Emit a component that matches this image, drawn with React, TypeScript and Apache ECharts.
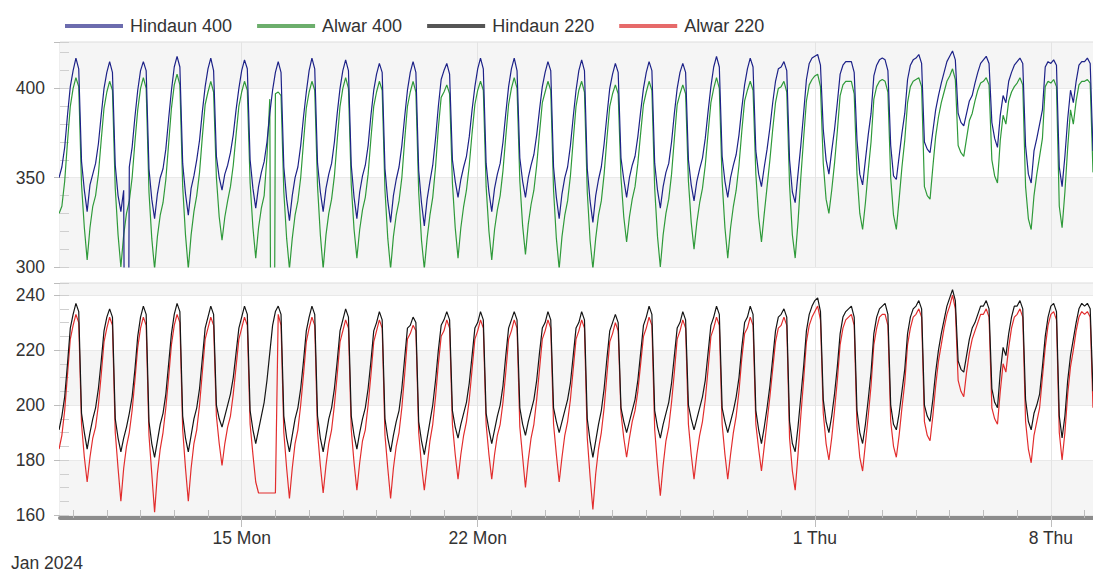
import React, { useEffect, useRef } from 'react';
import * as echarts from 'echarts';

// ---- time frame (UTC) ----
const HOUR = 3600000;
const SAMPLE_STEP_HOURS = 2;
const FIRST_SAMPLE = Date.UTC(2024, 0, 9, 14);
const X_MIN = Date.UTC(2024, 0, 9, 14, 40);
const X_MAX = Date.UTC(2024, 1, 9, 6);

// labelled dates on the time axis
const labelDates: [number, number, number][] = [
  [2024, 0, 15],
  [2024, 0, 22],
  [2024, 1, 1],
  [2024, 1, 8],
];
const weekDayNames = ['Sun', 'Mon', 'Tue', 'Wed', 'Thu', 'Fri', 'Sat'];

// ---- series values (kV), one row per day, samples every 2 h ----
// first row: Jan 9 14h..22h, last row: Feb 9 00h..06h
const hindaun400: number[][] = [
  [350, 356, 367, 385, 401],
  [410, 417, 411, 359, 343, 331, 346, 352, 358, 369, 385, 400],
  [409, 415, 409, 357, 340, 331, 343, 0, 356, 367, 384, 399],
  [410, 415, 410, 355, 338, 327, 341, 350, 355, 366, 383, 399],
  [412, 418, 412, 358, 341, 329, 344, 351, 360, 371, 387, 401],
  [411, 417, 410, 362, 350, 343, 352, 357, 364, 374, 388, 400],
  [410, 416, 411, 360, 344, 333, 345, 353, 359, 370, 386, 399],
  [409, 415, 409, 356, 338, 326, 340, 350, 356, 368, 384, 398],
  [410, 417, 411, 358, 342, 331, 344, 352, 358, 370, 386, 400],
  [410, 416, 410, 357, 339, 327, 342, 351, 357, 368, 385, 399],
  [408, 414, 409, 355, 337, 325, 340, 349, 356, 368, 384, 399],
  [409, 415, 409, 354, 336, 323, 338, 348, 357, 372, 390, 405],
  [410, 414, 408, 360, 348, 339, 349, 356, 362, 373, 388, 401],
  [411, 417, 411, 358, 342, 331, 344, 352, 358, 370, 386, 401],
  [411, 417, 410, 361, 348, 339, 350, 357, 363, 374, 388, 401],
  [409, 415, 410, 356, 339, 327, 341, 350, 356, 368, 384, 399],
  [410, 416, 410, 355, 337, 325, 340, 349, 356, 369, 385, 400],
  [408, 414, 409, 361, 349, 339, 350, 357, 362, 373, 387, 400],
  [409, 415, 410, 358, 343, 333, 345, 353, 358, 370, 386, 400],
  [409, 414, 409, 360, 346, 337, 348, 355, 361, 372, 387, 401],
  [412, 418, 412, 362, 348, 339, 350, 357, 363, 374, 389, 402],
  [411, 417, 412, 365, 352, 345, 356, 366, 378, 392, 404, 411],
  [412, 415, 410, 360, 342, 336, 352, 368, 386, 405, 414, 417],
  [418, 419, 413, 377, 360, 352, 365, 377, 392, 408, 413, 415],
  [415, 415, 409, 371, 352, 346, 360, 374, 386, 407, 413, 416],
  [417, 416, 410, 368, 351, 349, 362, 375, 386, 405, 413, 416],
  [417, 419, 414, 370, 366, 364, 376, 388, 396, 403, 409, 415],
  [418, 421, 416, 386, 381, 379, 386, 393, 396, 403, 409, 414],
  [416, 418, 414, 381, 372, 367, 385, 396, 392, 404, 409, 413],
  [415, 417, 414, 368, 352, 347, 365, 372, 380, 388, 412, 415],
  [414, 416, 413, 356, 345, 362, 383, 399, 392, 404, 413, 415],
  [415, 417, 414, 365],
];

const alwar400: number[][] = [
  [330, 334, 348, 370, 390],
  [400, 406, 401, 346, 322, 304, 322, 334, 340, 352, 371, 389],
  [398, 404, 399, 344, 318, 300, 318, 330, 337, 350, 370, 388],
  [400, 406, 400, 342, 316, 299, 317, 329, 336, 349, 369, 389],
  [402, 408, 402, 345, 318, 299, 318, 331, 340, 353, 373, 391],
  [398, 404, 398, 350, 328, 315, 328, 337, 345, 357, 374, 390],
  [398, 404, 399, 347, 322, 305, 322, 333, 340, 362, 394, 0],
  [397, 398, 396, 342, 316, 299, 316, 329, 337, 350, 370, 389],
  [398, 404, 399, 345, 318, 299, 318, 330, 338, 351, 371, 390],
  [400, 406, 400, 346, 321, 305, 321, 332, 339, 352, 372, 390],
  [398, 404, 399, 343, 316, 299, 317, 329, 337, 350, 371, 390],
  [398, 404, 398, 342, 315, 299, 316, 329, 339, 356, 378, 395],
  [398, 402, 397, 347, 322, 305, 322, 334, 343, 357, 375, 391],
  [399, 404, 399, 345, 320, 304, 321, 332, 340, 354, 373, 391],
  [400, 406, 400, 348, 323, 307, 324, 335, 343, 357, 375, 392],
  [398, 404, 399, 343, 316, 299, 317, 329, 337, 351, 371, 390],
  [399, 404, 398, 342, 315, 299, 316, 329, 337, 352, 372, 390],
  [397, 402, 397, 350, 328, 314, 328, 338, 345, 358, 375, 391],
  [398, 404, 399, 344, 317, 300, 318, 330, 338, 352, 372, 391],
  [397, 402, 397, 348, 325, 310, 325, 336, 344, 357, 375, 392],
  [400, 406, 400, 348, 322, 305, 322, 334, 343, 357, 376, 393],
  [399, 404, 399, 352, 328, 314, 330, 345, 360, 377, 392, 400],
  [401, 404, 398, 346, 318, 305, 325, 350, 372, 393, 402, 405],
  [407, 408, 401, 358, 338, 330, 343, 358, 376, 396, 402, 404],
  [404, 404, 397, 352, 330, 321, 336, 354, 370, 394, 401, 404],
  [405, 404, 398, 350, 329, 321, 338, 356, 371, 392, 401, 404],
  [405, 406, 401, 345, 340, 338, 356, 373, 384, 392, 398, 404],
  [407, 411, 405, 368, 364, 362, 372, 382, 386, 393, 399, 403],
  [404, 406, 402, 360, 351, 347, 371, 385, 380, 393, 398, 401],
  [403, 406, 402, 345, 327, 321, 340, 352, 362, 372, 401, 404],
  [403, 405, 401, 334, 322, 342, 367, 388, 380, 393, 402, 404],
  [404, 405, 403, 353],
];

const hindaun220: number[][] = [
  [191, 196, 203, 215, 228],
  [233, 237, 234, 197, 190, 184, 190, 195, 199, 206, 216, 227],
  [232, 235, 232, 195, 188, 183, 188, 192, 197, 203, 213, 225],
  [232, 236, 233, 194, 186, 181, 187, 193, 197, 204, 215, 226],
  [233, 237, 234, 196, 188, 183, 189, 195, 199, 206, 217, 228],
  [232, 236, 233, 200, 195, 192, 196, 200, 204, 210, 219, 228],
  [232, 236, 233, 198, 191, 186, 191, 196, 201, 209, 219, 229],
  [234, 236, 233, 196, 188, 183, 189, 195, 199, 206, 216, 227],
  [232, 236, 233, 196, 188, 183, 189, 195, 199, 206, 216, 227],
  [231, 235, 232, 196, 189, 184, 190, 195, 199, 206, 216, 227],
  [230, 234, 231, 195, 188, 183, 189, 194, 198, 206, 217, 228],
  [229, 232, 230, 194, 187, 182, 188, 194, 200, 209, 220, 229],
  [231, 234, 231, 198, 192, 188, 193, 197, 201, 208, 218, 228],
  [230, 234, 231, 197, 191, 186, 191, 196, 200, 207, 218, 228],
  [231, 234, 231, 199, 193, 189, 194, 198, 202, 209, 219, 228],
  [230, 234, 231, 199, 194, 190, 194, 198, 202, 208, 218, 228],
  [230, 234, 231, 195, 187, 181, 187, 193, 198, 206, 217, 227],
  [230, 233, 230, 199, 194, 190, 194, 198, 202, 209, 219, 229],
  [232, 236, 233, 198, 192, 188, 193, 197, 201, 208, 218, 228],
  [230, 234, 231, 200, 195, 191, 195, 199, 203, 209, 219, 229],
  [232, 236, 233, 199, 194, 190, 194, 198, 203, 210, 221, 230],
  [232, 236, 233, 198, 191, 186, 192, 199, 207, 217, 227, 232],
  [233, 235, 232, 194, 186, 183, 192, 203, 214, 227, 233, 236],
  [238, 239, 234, 202, 194, 190, 196, 204, 214, 226, 232, 234],
  [235, 236, 232, 198, 190, 186, 193, 202, 212, 226, 232, 235],
  [236, 237, 233, 200, 193, 191, 197, 205, 213, 226, 232, 235],
  [236, 238, 235, 200, 196, 194, 202, 212, 220, 226, 231, 236],
  [239, 242, 238, 216, 213, 212, 218, 224, 228, 230, 233, 236],
  [236, 238, 235, 206, 201, 199, 212, 221, 218, 226, 232, 236],
  [236, 238, 235, 202, 194, 191, 197, 200, 204, 214, 225, 232],
  [236, 237, 234, 196, 188, 196, 209, 218, 224, 230, 235, 237],
  [236, 237, 235, 205],
];

const alwar220: number[][] = [
  [184, 189, 198, 211, 224],
  [229, 233, 230, 193, 181, 172, 181, 188, 192, 200, 211, 223],
  [228, 232, 229, 190, 177, 165, 177, 185, 190, 198, 209, 221],
  [228, 232, 229, 189, 175, 161, 175, 184, 190, 199, 210, 222],
  [229, 233, 230, 191, 177, 165, 177, 186, 191, 200, 212, 224],
  [228, 232, 229, 196, 186, 178, 186, 192, 196, 204, 214, 224],
  [228, 232, 229, 193, 182, 172, 168, 168, 168, 168, 168, 168],
  [168, 233, 229, 190, 177, 166, 177, 186, 191, 200, 211, 223],
  [228, 232, 229, 190, 178, 168, 178, 186, 191, 200, 211, 223],
  [227, 231, 228, 191, 179, 169, 179, 187, 191, 200, 211, 223],
  [227, 231, 228, 189, 177, 166, 177, 185, 190, 199, 211, 224],
  [226, 229, 227, 190, 178, 169, 178, 187, 193, 203, 215, 225],
  [227, 231, 228, 193, 182, 173, 182, 189, 194, 202, 213, 224],
  [227, 231, 228, 193, 182, 173, 182, 189, 193, 201, 212, 224],
  [227, 231, 228, 192, 181, 170, 180, 188, 193, 202, 213, 224],
  [227, 231, 228, 193, 182, 172, 181, 189, 194, 202, 213, 224],
  [227, 231, 228, 188, 174, 162, 175, 184, 190, 199, 211, 223],
  [226, 230, 227, 197, 188, 181, 188, 194, 198, 205, 215, 225],
  [228, 232, 229, 191, 178, 167, 178, 187, 192, 201, 212, 224],
  [227, 231, 228, 193, 182, 173, 182, 189, 194, 202, 213, 225],
  [228, 232, 229, 193, 182, 173, 182, 190, 196, 205, 217, 226],
  [228, 232, 229, 193, 184, 176, 185, 194, 203, 213, 223, 228],
  [229, 232, 229, 188, 176, 169, 182, 196, 209, 223, 229, 232],
  [234, 236, 231, 197, 186, 180, 188, 198, 209, 222, 228, 231],
  [232, 233, 229, 192, 181, 176, 186, 196, 207, 222, 228, 232],
  [233, 233, 229, 194, 185, 181, 189, 199, 208, 222, 228, 232],
  [233, 235, 232, 194, 189, 187, 196, 207, 216, 222, 228, 233],
  [236, 240, 235, 209, 205, 203, 212, 219, 224, 227, 230, 233],
  [233, 235, 232, 199, 195, 193, 205, 215, 212, 221, 228, 232],
  [233, 235, 232, 194, 184, 179, 189, 194, 199, 210, 221, 229],
  [233, 234, 231, 190, 180, 190, 204, 214, 220, 227, 232, 234],
  [233, 234, 232, 199],
];

const FONT = "'Liberation Sans', Arial, Helvetica, sans-serif";
const TEXT = '#333333';

function toPoints(rows: number[][]): [number, number][] {
  const flat = rows.flat();
  return flat.map((v, i) => [FIRST_SAMPLE + i * SAMPLE_STEP_HOURS * HOUR, v]);
}

const labelTimes = labelDates.map(([y, m, d]) => Date.UTC(y, m, d));
const dayTicks: number[] = [];
for (let t = Date.UTC(2024, 0, 10); t <= X_MAX; t += 24 * HOUR) dayTicks.push(t);

function fmtDay(v: number) {
  const d = new Date(v);
  return `${d.getUTCDate()} ${weekDayNames[d.getUTCDay()]}`;
}

const weekLines = {
  symbol: ['none', 'none'],
  silent: true,
  z: 1,
  label: { show: false },
  emphasis: { disabled: true },
  lineStyle: { color: '#e4e4e4', width: 1, type: 'solid' },
  data: labelTimes.map((t) => ({ xAxis: t })),
};

function valueAxis(grid: number, min: number, max: number, interval: number, minorSplit: number) {
  return [
    {
      type: 'value',
      gridIndex: grid,
      position: 'left',
      min,
      max,
      interval,
      axisLine: { show: false },
      axisTick: { show: true, inside: true, length: 9, lineStyle: { color: '#cfcfcf' } },
      minorTick: { show: true, splitNumber: minorSplit, length: 9, lineStyle: { color: '#cfcfcf' } },
      axisLabel: {
        fontSize: 17.5,
        color: TEXT,
        fontFamily: FONT,
        margin: 15,
        formatter: (v: number) => (v % interval === 0 ? String(v) : ''),
      },
      splitLine: { show: true, lineStyle: { color: '#e9e9e9' } },
      splitArea: { show: true, areaStyle: { color: ['#f5f5f5', '#ffffff'] } },
    },
    {
      type: 'value',
      gridIndex: grid,
      position: 'left',
      min,
      max,
      interval,
      axisLine: { show: false },
      axisTick: { show: true, inside: false, length: 6, lineStyle: { color: '#bdbdbd' } },
      axisLabel: { show: false },
      splitLine: { show: false },
    },
  ];
}

const [y0, y0b] = valueAxis(0, 300, 426, 50, 5);
const [y1, y1b] = valueAxis(1, 160, 244.4, 20, 4);

const LINE_W = 1.2;

const option = {
  animation: false,
  backgroundColor: '#ffffff',
  textStyle: { fontFamily: FONT },
  legend: {
    left: 60,
    top: 12,
    icon: 'rect',
    itemWidth: 58,
    itemHeight: 4,
    itemGap: 25,
    textStyle: { fontSize: 18, color: TEXT, fontFamily: FONT, padding: [0, 0, 0, 2] },
    data: [
      { name: 'Hindaun 400', itemStyle: { color: '#6c6cae' } },
      { name: 'Alwar 400', itemStyle: { color: '#6cae6c' } },
      { name: 'Hindaun 220', itemStyle: { color: '#555555' } },
      { name: 'Alwar 220', itemStyle: { color: '#e66a6a' } },
    ],
  },
  grid: [
    { left: 60, right: 0, top: 42, height: 225, show: true, borderColor: '#dddddd', borderWidth: 1 },
    { left: 60, right: 0, top: 283, height: 232, show: true, borderColor: '#dddddd', borderWidth: 1 },
  ],
  xAxis: [
    { type: 'value', gridIndex: 0, min: X_MIN, max: X_MAX, show: false },
    {
      type: 'value',
      gridIndex: 1,
      position: 'bottom',
      offset: 3,
      min: X_MIN,
      max: X_MAX,
      axisLine: { show: true, lineStyle: { color: '#8c8c8c', width: 4 } },
      axisTick: { show: true, inside: true, length: 8, customValues: dayTicks, lineStyle: { color: '#bdbdbd' } },
      axisLabel: {
        show: true,
        customValues: labelTimes,
        formatter: (v: number) => fmtDay(v),
        fontSize: 17.5,
        color: TEXT,
        fontFamily: FONT,
        margin: 11,
      },
      splitLine: { show: false },
    },
    {
      type: 'value',
      gridIndex: 1,
      position: 'bottom',
      offset: 3,
      min: X_MIN,
      max: X_MAX,
      axisLine: { show: false },
      axisTick: { show: true, inside: false, length: 9, customValues: labelTimes, lineStyle: { color: '#bdbdbd' } },
      axisLabel: { show: false },
      splitLine: { show: false },
    },
  ],
  yAxis: [y0, y1, y0b, y1b],
  series: [
    {
      name: 'Alwar 400',
      type: 'line',
      xAxisIndex: 0,
      yAxisIndex: 0,
      showSymbol: false,
      symbol: 'none',
      color: '#2f9a3a',
      lineStyle: { width: LINE_W, color: '#2f9a3a' },
      data: toPoints(alwar400),
      markLine: weekLines,
    },
    {
      name: 'Hindaun 400',
      type: 'line',
      xAxisIndex: 0,
      yAxisIndex: 0,
      showSymbol: false,
      symbol: 'none',
      color: '#1d2288',
      lineStyle: { width: LINE_W, color: '#1d2288' },
      data: toPoints(hindaun400),
    },
    {
      name: 'Alwar 220',
      type: 'line',
      xAxisIndex: 1,
      yAxisIndex: 1,
      showSymbol: false,
      symbol: 'none',
      color: '#e22d2d',
      lineStyle: { width: LINE_W, color: '#e22d2d' },
      data: toPoints(alwar220),
      markLine: weekLines,
    },
    {
      name: 'Hindaun 220',
      type: 'line',
      xAxisIndex: 1,
      yAxisIndex: 1,
      showSymbol: false,
      symbol: 'none',
      color: '#151515',
      lineStyle: { width: LINE_W, color: '#151515' },
      data: toPoints(hindaun220),
    },
  ],
  graphic: [
    {
      type: 'text',
      left: 11,
      top: 554,
      style: { text: 'Jan 2024', fontSize: 17.5, fill: TEXT, fontFamily: FONT },
    },
  ],
};

export default function App() {
  const ref = useRef<HTMLDivElement>(null);
  useEffect(() => {
    document.body.style.margin = '0';
    const chart = echarts.init(ref.current as HTMLDivElement, null, { renderer: 'svg' });
    chart.setOption(option as any);
    return () => chart.dispose();
  }, []);
  return <div ref={ref} style={{ width: 1093, height: 572, background: '#ffffff' }} />;
}
